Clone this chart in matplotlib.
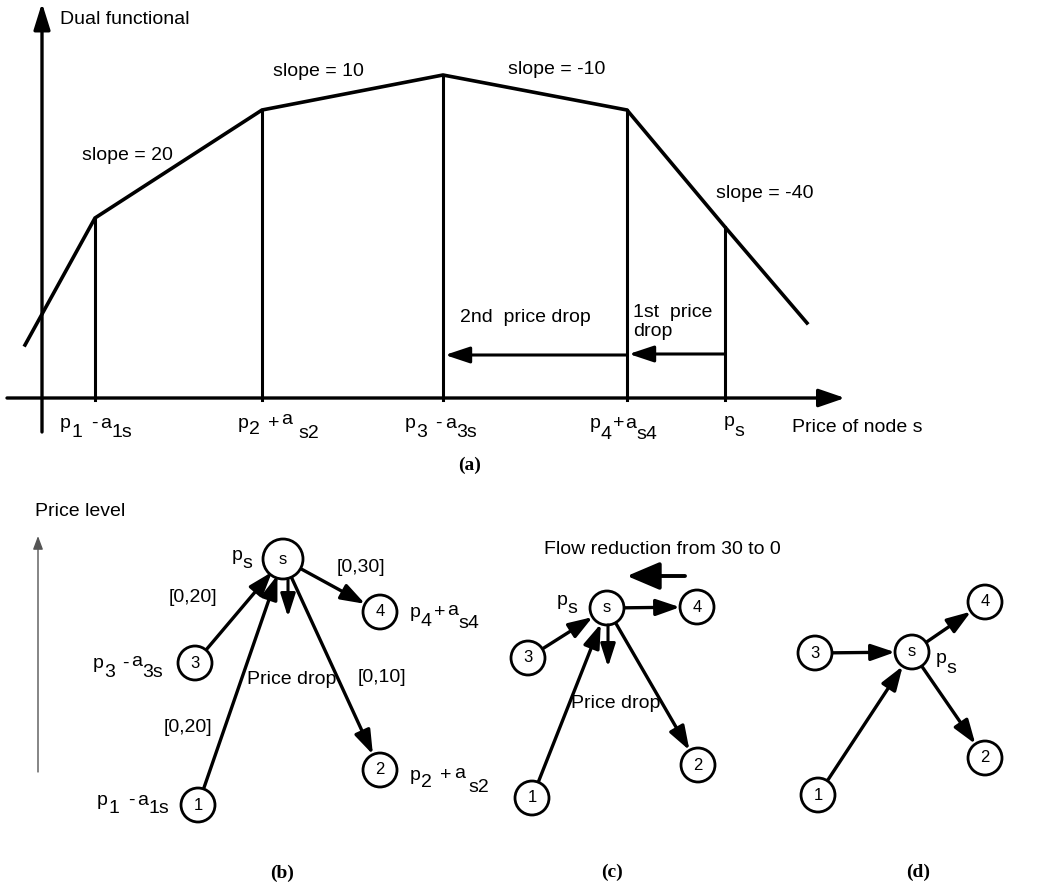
import matplotlib
matplotlib.use('Agg')
import matplotlib.pyplot as plt
from matplotlib.patches import Circle

plt.rcParams['font.family'] = ['Liberation Sans', 'DejaVu Sans']

# (a) dual functional: breakpoints (price, value), picture units, y grows down
price_x = [25, 95, 262, 443, 627, 725, 807]
dual_y = [345, 218, 110, 75, 110, 227, 323]
axis_y = 398
# labels with subscripts: (x, baseline, [(piece, gap before, drop)])
break_labels = [
    (60, 428, [('p', 0, 0), ('1', 1, 9), ('-', 8, 0), ('a', 3, 0), ('1s', 0, 9)]),
    (238, 428, [('p', 0, 0), ('2', 0, 6), ('+', 8, 0), ('a', 2, -4), ('s2', 6, 10)]),
    (405, 428, [('p', 0, 0), ('3', 0, 9), ('-', 8, 0), ('a', 4, 0), ('3s', 0, 9)]),
    (590, 428, [('p', 0, 0), ('4', 0, 11), ('+', 1, 0), ('a', 1, 0), ('s4', 0, 11)]),
    (724, 426, [('p', 0, 0), ('s', 0, 10)]),
]
slope_text = ['slope = 20', 'slope = 10', 'slope = -10', 'slope = -40']
slope_pos = [(127, 155), (318, 72), (557, 70), (765, 193)]
drops = [(627, 445, 355, '2nd  price drop', (525, 318), 'center'),
         (725, 629, 354, '1st  price\ndrop', (633, 322), 'left')]

# networks (b), (c), (d): node centres
nodes_b = {'s': (283, 559), '4': (380, 612), '3': (195, 663), '2': (380, 770), '1': (198, 805)}
nodes_c = {'s': (607, 608), '4': (697, 607), '3': (528, 658), '2': (698, 765), '1': (532, 798)}
nodes_d = {'s': (912, 652), '4': (985, 602), '3': (815, 653), '2': (985, 758), '1': (818, 795)}
edges = [('3', 's'), ('1', 's'), ('s', '4'), ('s', '2')]
labels_b = [('[0,30]', (361, 567)), ('[0,20]', (193, 597)), ('[0,20]', (188, 727)),
            ('[0,10]', (382, 677)), ('Price drop', (292, 680))]
node_notes_b = [
    (232, 560, [('p', 0, 0), ('s', 0, 8)]),
    (93, 668, [('p', 0, 0), ('3', 0, 9), ('-', 7, 0), ('a', 3, -2), ('3s', 0, 9)]),
    (97, 805, [('p', 0, 0), ('1', 1, 8), ('-', 8, 0), ('a', 3, 0), ('1s', 0, 8)]),
    (410, 617, [('p', 0, 0), ('4', 0, 9), ('+', 2, 0), ('a', 2, -2), ('s4', 0, 11)]),
    (410, 780, [('p', 0, 0), ('2', 0, 7), ('+', 8, 0), ('a', 3, -2), ('s2', 3, 12)]),
]
notes_c = [(557, 605, [('p', 0, 0), ('s', 0, 8)])]
notes_d = [(936, 663, [('p', 0, 0), ('s', 0, 10)])]


def arrow(ax, start, end, hl=1.4, hw=0.5, lw=2.2, shrink=0, color='black'):
    ax.annotate('', xy=end, xytext=start,
                arrowprops=dict(arrowstyle=f'-|>,head_length={hl},head_width={hw}',
                                lw=lw, color=color, shrinkA=shrink, shrinkB=shrink,
                                mutation_scale=10))


def sub_label(ax, x, y, pieces, fs=14):
    # one data unit is one pixel, so text widths can be added straight to x
    renderer = ax.figure.canvas.get_renderer()
    for s, gap, dy in pieces:
        x += gap
        t = ax.text(x, y + dy, s, fontsize=fs, ha='left', va='baseline')
        x += t.get_window_extent(renderer).width


def network(ax, nodes, big_s=False, radius=17):
    for a, b in edges:
        arrow(ax, nodes[a], nodes[b], hl=1.45, hw=0.5, lw=2.4, shrink=radius / 1.39)
    for name, (x, y) in nodes.items():
        r = radius + 3 if (name == 's' and big_s) else radius
        ax.add_patch(Circle((x, y), r, fc='white', ec='black', lw=2.0, zorder=3))
        ax.text(x, y, name, ha='center', va='center', fontsize=12, zorder=4)


fig = plt.figure(figsize=(10.59, 8.89), dpi=100)
ax = fig.add_axes([0, 0, 1, 1])
ax.set_xlim(0, 1059)
ax.set_ylim(889, 0)
ax.axis('off')

# ---- (a)
arrow(ax, (42, 432), (42, 3), hl=1.6, hw=0.5, lw=2.4)
arrow(ax, (7, axis_y), (845, axis_y), hl=1.6, hw=0.55, lw=2.4)
ax.plot(price_x, dual_y, color='black', lw=2.6, solid_joinstyle='miter')
for x, y in zip(price_x[1:-1], dual_y[1:-1]):
    ax.plot([x, x], [y, axis_y + 2], color='black', lw=2.2)
for x, y, pieces in break_labels:
    sub_label(ax, x, y, pieces)
ax.text(792, 427, 'Price of node s', fontsize=14, ha='left', va='center')
ax.text(60, 20, 'Dual functional', fontsize=14, ha='left', va='center')
for t, (x, y) in zip(slope_text, slope_pos):
    ax.text(x, y, t, fontsize=14, ha='center', va='center')
for x0, x1, y, t, (tx, ty), ha in drops:
    arrow(ax, (x0, y), (x1, y), hl=1.5, hw=0.5, lw=2.2)
    ax.text(tx, ty, t, fontsize=14, ha=ha, va='center', linespacing=1.15)
ax.text(470, 465, '(a)', fontsize=14, family='Liberation Serif', weight='bold',
        ha='center', va='center')

# ---- (b)
ax.text(35, 512, 'Price level', fontsize=14, ha='left', va='center')
arrow(ax, (38, 772), (38, 536), hl=0.8, hw=0.3, lw=1.0, color='#555555')
network(ax, nodes_b, big_s=True)
arrow(ax, (288, 580), (288, 617), hl=1.4, hw=0.45, lw=2.2)
for t, (x, y) in labels_b:
    ax.text(x, y, t, fontsize=14, ha='center', va='center')
for x, y, pieces in node_notes_b:
    sub_label(ax, x, y, pieces)
ax.text(282, 873, '(b)', fontsize=14, family='Liberation Serif', weight='bold',
        ha='center', va='center')

# ---- (c)
ax.text(662, 550, 'Flow reduction from 30 to 0', fontsize=14, ha='center', va='center')
arrow(ax, (685, 576), (627, 576), hl=2.0, hw=0.85, lw=2.8)
network(ax, nodes_c)
arrow(ax, (608, 625), (608, 667), hl=1.4, hw=0.45, lw=2.2)
for x, y, pieces in notes_c:
    sub_label(ax, x, y, pieces)
ax.text(616, 703, 'Price drop', fontsize=14, ha='center', va='center')
ax.text(612, 872, '(c)', fontsize=14, family='Liberation Serif', weight='bold',
        ha='center', va='center')

# ---- (d)
network(ax, nodes_d)
for x, y, pieces in notes_d:
    sub_label(ax, x, y, pieces)
ax.text(918, 872, '(d)', fontsize=14, family='Liberation Serif', weight='bold',
        ha='center', va='center')

fig.savefig('out.png', dpi=100)
